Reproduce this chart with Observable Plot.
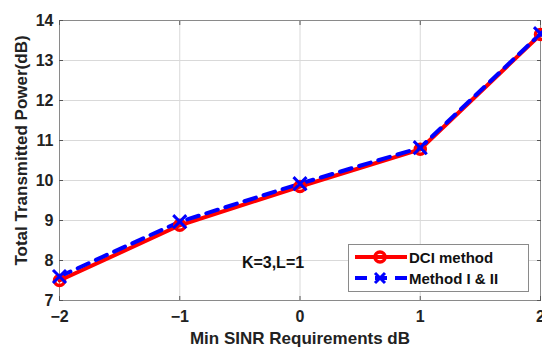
<!DOCTYPE html>
<html><head><meta charset="utf-8">
<script src="https://cdn.jsdelivr.net/npm/d3@7"></script>
<script src="https://cdn.jsdelivr.net/npm/@observablehq/plot@0.6"></script>
<style>
body{margin:0;background:#fff;font-family:"Liberation Sans",Arial,sans-serif;}
#wrap{position:relative;width:542px;height:347px;overflow:hidden;}
#legend{position:absolute;left:348px;top:244px;width:179px;height:46px;border:1px solid #8a8a8a;background:#fff;font-weight:bold;font-size:15px;color:#111;}
.row{position:absolute;left:0;height:20px;display:flex;align-items:center;}
.row span{margin-left:1px;}
</style></head>
<body><div id="wrap"></div>
<script>
const sinr = [-2, -1, 0, 1, 2];
const dci = [7.5, 8.88, 9.85, 10.78, 13.65];
const methodIII = [7.6, 8.97, 9.92, 10.82, 13.67];
const xTicks = [-2, -1, 0, 1, 2];
const yTicks = [7, 8, 9, 10, 11, 12, 13, 14];
const seriesNames = ["DCI method", "Method I & II"];
const note = "K=3,L=1";
const xLabel = "Min SINR Requirements dB";
const yLabel = "Total Transmitted Power(dB)";

const dciData = sinr.map((x, i) => ({x, y: dci[i]}));
const mData = sinr.map((x, i) => ({x, y: methodIII[i]}));

const chart = Plot.plot({
  width: 542, height: 347,
  marginLeft: 59, marginRight: 2, marginTop: 20, marginBottom: 47,
  style: {fontFamily: '"Liberation Sans", Arial, sans-serif', fontSize: "16px", fontWeight: "bold", color: "#222", background: "#fff", overflow: "visible"},
  x: {domain: [-2, 2], ticks: xTicks},
  y: {domain: [7, 14], ticks: yTicks},
  marks: [
    Plot.gridX(xTicks, {stroke: "#d9d9d9", strokeOpacity: 1}),
    Plot.gridY(yTicks, {stroke: "#d9d9d9", strokeOpacity: 1}),
    Plot.frame({stroke: "#8a8a8a"}),
    Plot.axisX({ticks: xTicks, anchor: "bottom", tickSize: -4, text: null, label: null, stroke: "#555"}),
    Plot.axisX({ticks: xTicks, anchor: "top", tickSize: -4, text: null, label: null, stroke: "#555"}),
    Plot.axisY({ticks: yTicks, anchor: "left", tickSize: -4, text: null, label: null, stroke: "#555"}),
    Plot.axisY({ticks: yTicks, anchor: "right", tickSize: -4, text: null, label: null, stroke: "#555"}),
    Plot.axisX({ticks: xTicks, tickSize: 0, tickPadding: 10, tickFormat: d3.format("d"), label: null, fontSize: 16, fontWeight: "bold", fill: "#222"}),
    Plot.axisY({ticks: yTicks, tickSize: 0, tickPadding: 6, tickFormat: d3.format("d"), label: null, fontSize: 16, fontWeight: "bold", fill: "#222"}),
    Plot.text([xLabel], {frameAnchor: "bottom", dy: 43, text: d => d, fontSize: 17, fontWeight: "bold", fill: "#222"}),
    Plot.text([yLabel], {frameAnchor: "left", dx: -38, dy: -10, rotate: -90, textAnchor: "middle", text: d => d, fontSize: 17, fontWeight: "bold", fill: "#222"}),
    Plot.line(dciData, {x: "x", y: "y", stroke: "#ff0000", strokeWidth: 4}),
    Plot.line(mData, {x: "x", y: "y", stroke: "#0000ff", strokeWidth: 4, strokeDasharray: "12,8"}),
    Plot.dot(dciData, {x: "x", y: "y", r: 5, stroke: "#ff0000", strokeWidth: 3.5, fill: "none"}),
    Plot.dot(mData, {x: "x", y: "y", symbol: "times", r: 6, stroke: "#0000ff", strokeWidth: 3}),
    Plot.text([note], {x: [0], y: [8], text: d => d, dx: -27, dy: 2, fontSize: 16, fontWeight: "bold", fill: "#111"})
  ]
});
const wrap = document.getElementById("wrap");
wrap.appendChild(chart);

const leg = document.createElement("div");
leg.id = "legend";
const rows = [
  {name: seriesNames[0], color: "#ff0000", dash: null, sym: "circle"},
  {name: seriesNames[1], color: "#0000ff", dash: "12,8", sym: "times"}
];
rows.forEach((r, i) => {
  const row = document.createElement("div");
  row.className = "row";
  row.style.top = (2 + i * 21) + "px";
  const s = d3.create("svg").attr("width", 59).attr("height", 20);
  s.append("line").attr("x1", 6).attr("x2", 58).attr("y1", 10).attr("y2", 10)
    .attr("stroke", r.color).attr("stroke-width", 4).attr("stroke-dasharray", r.dash);
  if (r.sym === "circle") {
    s.append("circle").attr("cx", 31).attr("cy", 10).attr("r", 5).attr("fill", "none").attr("stroke", r.color).attr("stroke-width", 3.5);
  } else {
    s.append("path").attr("d", "M26,5L36,15M36,5L26,15").attr("stroke", r.color).attr("stroke-width", 3);
  }
  row.appendChild(s.node());
  const t = document.createElement("span");
  t.textContent = r.name;
  row.appendChild(t);
  leg.appendChild(row);
});
wrap.appendChild(leg);
</script></body></html>
